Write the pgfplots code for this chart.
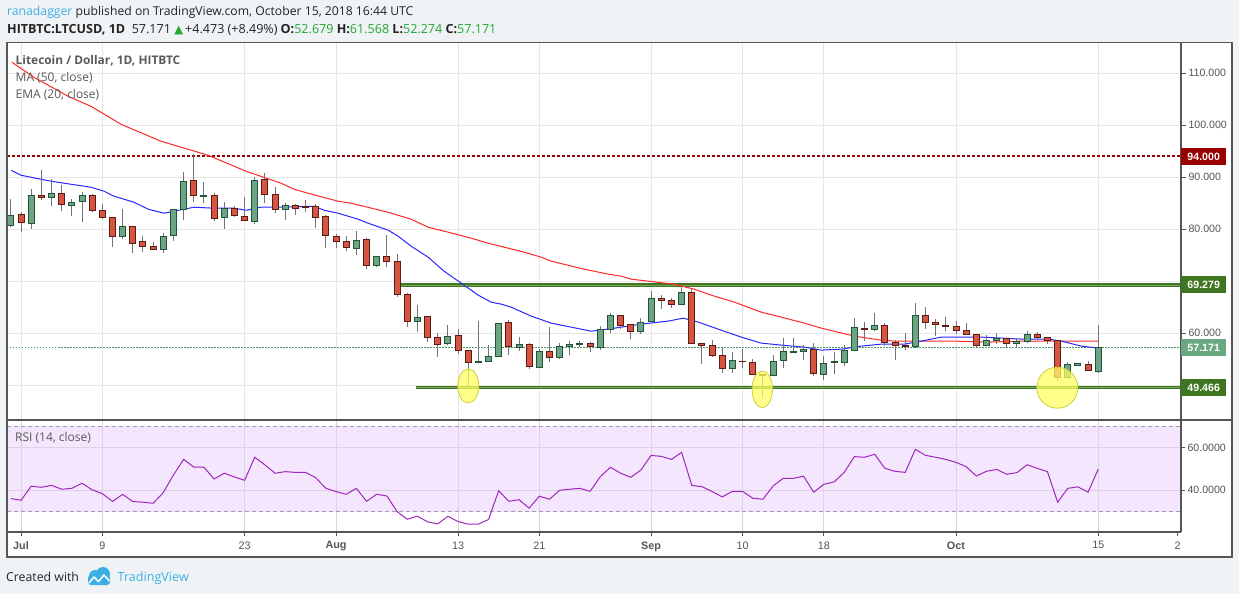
\documentclass[border=0pt]{standalone}
\usepackage{fontspec}
\setmainfont{Open Sans}
\newfontfamily\axfont{Liberation Sans}
\newfontfamily\symfont{DejaVu Sans}
\usepackage{pgfplots}
\usepackage{pgfplotstable}
\pgfplotsset{compat=1.18}

\definecolor{pageBg}{RGB}{240,243,246}
\definecolor{frameGray}{RGB}{85,85,85}
\definecolor{gridGray}{RGB}{230,230,230}
\definecolor{labelGray}{RGB}{85,85,85}
\definecolor{upFill}{RGB}{107,165,131}
\definecolor{upLine}{RGB}{34,85,55}
\definecolor{dnFill}{RGB}{214,84,66}
\definecolor{dnLine}{RGB}{92,28,20}
\definecolor{wick}{RGB}{115,115,117}
\definecolor{maRed}{RGB}{255,40,40}
\definecolor{emaBlue}{RGB}{40,40,255}
\definecolor{resRed}{RGB}{153,0,0}
\definecolor{supGreen}{RGB}{62,118,34}
\definecolor{supLight}{RGB}{120,165,90}
\definecolor{lastGreen}{RGB}{106,168,130}
\definecolor{dotGreen}{RGB}{70,150,100}
\definecolor{hlYellow}{RGB}{255,255,100}
\definecolor{hlEdge}{RGB}{205,205,60}
\definecolor{rsiLine}{RGB}{160,40,190}
\definecolor{rsiFill}{RGB}{244,230,252}
\definecolor{rsiGrid}{RGB}{222,208,232}
\definecolor{rsiBand}{RGB}{165,155,172}
\definecolor{tvBlue}{RGB}{60,176,228}
\definecolor{valGreen}{RGB}{38,166,52}
\definecolor{textDark}{RGB}{35,35,35}
\definecolor{legendGray}{RGB}{90,90,90}

% candles: day (0 = 1 Jul 2018), open, high, low, close
\pgfplotstableread{
d o h l c
-1 80.71 85.77 80.50 82.63
1 81.09 87.69 80.13 86.47
3 86.09 89.74 84.49 86.86
5 84.55 85.90 82.57 85.13
6 85.32 87.18 81.41 86.47
10 78.59 83.85 78.08 80.51
14 76.09 79.36 75.45 78.59
15 78.78 83.97 77.82 83.85
16 83.78 90.96 81.80 89.17
18 86.28 89.04 85.13 86.47
20 82.24 85.26 80.13 83.97
23 81.48 90.06 81.09 89.36
26 83.78 85.13 81.79 84.55
33 76.28 79.62 75.06 77.82
35 73.01 74.87 72.63 74.68
39 62.24 65.38 60.19 63.01
42 58.01 61.54 57.63 59.36
45 54.36 62.24 54.36 54.55
46 54.55 57.63 54.55 55.51
47 55.51 61.86 55.51 61.86
49 57.24 59.17 56.47 57.82
51 53.40 56.86 53.40 56.47
53 55.26 58.08 55.06 57.44
54 57.37 58.46 55.83 57.82
55 57.82 58.46 57.37 58.01
57 57.18 61.28 56.79 60.71
58 60.71 63.85 59.94 63.40
61 60.32 62.82 59.74 62.05
62 62.24 68.01 62.24 66.67
65 65.51 68.97 65.32 67.82
70 53.21 56.28 52.37 54.74
74 51.86 55.71 51.86 54.55
75 54.74 58.97 53.21 56.47
76 56.35 58.97 56.09 56.54
77 56.47 57.63 54.74 56.86
79 52.05 55.51 50.90 54.17
80 54.36 56.28 52.05 54.49
81 54.36 57.63 53.59 56.67
82 56.67 62.88 56.67 61.09
84 60.71 63.85 60.32 61.47
88 57.44 65.77 57.05 63.40
95 57.63 59.55 57.63 58.59
96 58.59 60.06 57.95 58.97
98 58.01 58.97 57.24 58.40
99 58.40 60.32 58.01 59.74
103 51.47 54.42 51.28 53.97
104 53.78 54.23 53.59 54.17
106 52.679 61.568 52.274 57.171
}\upc

\pgfplotstableread{
d o h l c
0 82.82 83.33 79.49 81.28
2 86.47 91.35 85.64 86.09
4 86.86 88.46 83.59 84.74
7 86.47 86.86 83.33 83.59
8 83.59 84.81 82.05 82.18
9 82.24 82.44 76.60 78.59
11 80.51 80.51 75.45 77.24
12 77.63 78.78 75.64 76.67
13 76.67 77.44 75.96 76.09
17 89.36 94.42 85.26 86.41
19 86.47 87.05 81.60 82.05
21 83.97 84.55 82.44 82.63
22 82.44 86.15 81.67 81.67
24 89.55 90.77 85.13 86.67
25 86.67 88.08 83.21 83.78
27 84.55 84.87 82.76 83.97
28 84.36 85.58 83.33 84.17
29 84.36 84.87 80.26 82.18
30 82.44 82.82 76.41 78.78
31 78.59 79.04 76.41 77.63
32 77.63 78.65 75.83 76.47
34 78.01 78.21 72.37 73.01
36 74.74 78.85 72.76 73.78
37 73.78 75.32 66.99 67.44
38 67.44 67.63 61.22 62.24
40 63.21 63.21 58.33 59.17
41 59.17 59.94 55.32 57.82
43 59.55 60.71 55.90 56.67
44 56.67 56.67 49.68 54.36
48 62.05 62.44 55.71 57.44
50 57.82 58.01 53.01 53.59
52 56.47 61.09 54.36 55.32
56 58.01 58.21 56.28 57.37
59 63.40 63.40 60.71 61.47
60 61.67 61.67 58.78 60.32
63 66.67 67.24 64.55 66.28
64 66.28 66.67 64.74 65.51
66 67.82 68.59 58.01 58.01
67 58.01 58.01 54.10 57.63
68 57.63 58.59 55.32 55.71
69 55.71 57.24 52.37 53.21
71 54.62 56.86 53.21 54.55
72 54.36 54.94 52.05 52.05
73 52.05 52.05 47.56 51.86
78 56.86 58.01 51.67 52.24
83 60.90 62.12 58.40 60.71
85 61.47 61.86 57.44 58.21
86 58.21 58.59 54.74 57.63
87 57.63 60.00 56.67 57.44
89 63.40 64.94 60.71 62.05
90 62.05 62.69 59.36 61.67
91 61.47 63.01 60.32 61.28
92 61.28 62.24 59.74 60.51
93 60.51 61.86 59.74 59.74
94 59.74 59.74 57.05 57.63
97 58.97 58.97 57.24 58.01
100 59.74 60.13 58.78 59.17
101 59.17 59.17 57.82 58.59
102 58.59 58.59 50.83 51.47
105 53.97 54.68 52.63 52.82
}\dnc

\pgfplotstableread{
d r
-1 36.1
0 35.3
1 41.9
2 41.4
3 42.3
4 40.5
5 40.9
6 43.3
7 40.2
8 38.4
9 34.8
10 38.1
11 34.7
12 34.4
13 33.9
14 38.9
15 47.2
16 54.5
17 50.9
18 50.8
19 45.3
20 48.0
21 46.25
22 44.7
23 55.5
24 51.9
25 48.0
26 48.75
27 48.4
28 48.4
29 45.9
30 40.9
31 39.4
32 38.1
33 40.9
34 34.8
35 38.1
36 37.3
37 30.0
38 26.4
39 27.8
40 25.2
41 24.2
42 27.8
43 25.3
44 24.1
45 24.1
46 26.25
47 39.8
48 34.8
49 35.6
50 31.6
51 37.2
52 35.8
53 40.0
54 40.5
55 40.9
56 39.5
57 46.4
58 50.8
59 48.0
60 46.1
61 49.5
62 56.4
63 55.9
64 54.5
65 57.8
66 42.3
67 41.7
68 39.4
69 36.9
70 39.5
71 39.5
72 36.25
73 35.8
74 42.0
75 45.6
76 45.6
77 46.6
78 39.1
79 42.8
80 43.9
81 48.4
82 55.8
83 55.5
84 56.9
85 50.3
86 48.9
87 48.4
88 59.2
89 56.4
90 55.5
91 54.5
92 53.1
93 51.1
94 46.7
95 48.9
96 49.8
97 47.5
98 48.3
99 52.0
100 50.3
101 48.75
102 34.4
103 40.9
104 41.6
105 39.1
106 50.0
}\rsi

\begin{document}
\begin{tikzpicture}
\fill[pageBg] (0,0) rectangle (1239pt,-594pt);
\fill[white] (7pt,-42.5pt) rectangle (1232pt,-557pt);
% RSI 30-70 band background
\fill[rsiFill] (7pt,-426.4pt) rectangle (1181pt,-511.6pt);

% header
\node[anchor=base west, inner sep=0pt, text=textDark, font=\fontsize{12.2}{14}\selectfont]
  at (7pt,-15.5pt) {\textcolor{tvBlue}{ranadagger} published on TradingView.com, October 15, 2018 16:44 UTC};
\node[anchor=base west, inner sep=0pt, text=textDark, font=\fontsize{12.55}{14}\selectfont]
  at (7pt,-34pt) {\textbf{HITBTC:LTCUSD, 1D}\ \ 57.171 {\symfont\fontsize{11.5}{12}\selectfont\textcolor{valGreen}{▲}}\,+4.473 (+8.49\%) \textbf{O:}\textcolor{valGreen}{52.679} \textbf{H:}\textcolor{valGreen}{61.568} \textbf{L:}\textcolor{valGreen}{52.274} \textbf{C:}\textcolor{valGreen}{57.171}};

\begin{axis}[
  at={(7pt,-42.5pt)}, anchor=north west,
  scale only axis, width=1174pt, height=377.5pt,
  xmin=-1.38, xmax=114.14, ymin=43.28, ymax=115.93,
  axis line style={draw=none},
  xtick={0,8,22,31,43,51,62,71,79,92,106},
  xticklabels={},
  xtick pos=bottom,
  x tick style={draw=none},
  ytick={50,60,70,80,90,100,110},
  yticklabels={{},60.000,{},80.000,90.000,100.000,110.000},
  ytick pos=right, yticklabel pos=right,
  tick align=outside, major tick length=5pt,
  y tick style={draw=frameGray, line width=0.8pt},
  yticklabel style={font=\axfont\fontsize{10.6}{12}\selectfont, text=labelGray, anchor=west, xshift=-1pt},
  grid=major, grid style={gridGray, line width=0.8pt},
]
% reference lines
\addplot[resRed, line width=2pt, dash pattern=on 3pt off 2pt, forget plot] coordinates {(-1.38,94) (114.14,94)};
\addplot[dotGreen, line width=0.8pt, dash pattern=on 1.5pt off 1.5pt, forget plot] coordinates {(-1.38,57.171) (114.14,57.171)};
\addplot[supGreen, line width=3.2pt, forget plot] coordinates {(37.4,69.279) (114.14,69.279)};
\addplot[supLight, line width=0.8pt, forget plot] coordinates {(37.4,69.279) (114.14,69.279)};
\addplot[supGreen, line width=3.2pt, forget plot] coordinates {(38.9,49.466) (114.14,49.466)};
\addplot[supLight, line width=0.8pt, forget plot] coordinates {(38.9,49.466) (114.14,49.466)};

% MA 50
\addplot[maRed, line width=1pt, mark=none] coordinates {
(-0.89,112.12) (1.28,109.23) (4.63,105.58) (6.89,103.65) (9.84,100.19) (13.78,96.92) (16.44,95.38) (18.41,94.23) (22.15,91.15) (25.59,88.85) (26.87,87.69) (28.25,86.92) (31.20,85.38) (32.48,85.00) (36.12,83.27) (38.39,81.92) (40.06,80.38) (42.03,79.42) (44.29,78.27) (45.96,77.31) (47.54,76.54) (49.51,75.58) (51.18,74.62) (52.17,73.85) (55.41,72.31) (57.78,71.35) (59.06,70.96) (60.04,70.38) (64.27,69.42) (66.24,68.46) (68.21,67.12) (70.18,65.96) (72.83,64.04) (74.80,63.08) (77.07,61.92) (78.74,60.96) (81.99,59.42) (84.65,58.65) (85.93,58.46) (88.58,58.46) (91.83,58.46) (95.18,58.27) (98.43,58.46) (101.67,58.46) (106.0,58.46)};
% EMA 20
\addplot[emaBlue, line width=1pt, mark=none] coordinates {
(-0.98,91.35) (0,90.38) (2.95,89.23) (4.92,88.65) (6.89,88.08) (8.17,87.31) (9.15,86.35) (11.12,85.19) (12.5,83.85) (14.07,83.08) (15.06,83.46) (17.03,84.23) (19.0,84.04) (20.96,84.04) (22.15,83.65) (23.62,84.23) (25.59,84.23) (28.84,84.42) (29.82,83.65) (31.2,83.08) (33.17,81.92) (34.15,81.15) (36.12,79.81) (37.11,78.65) (38.39,76.73) (40.06,74.62) (41.63,71.92) (43.31,69.62) (44.98,67.31) (46.26,65.96) (47.24,65.58) (48.23,65.0) (50.2,63.27) (52.17,61.92) (54.13,61.15) (56.1,60.38) (57.78,60.77) (61.02,61.73) (63.68,62.31) (65.16,62.88) (66.63,62.12) (68.6,60.77) (70.87,59.23) (72.83,58.08) (74.8,57.69) (77.07,57.31) (78.74,56.73) (80.71,56.92) (82.68,57.5) (84.65,57.88) (86.91,57.88) (88.58,58.46) (90.55,59.23) (92.52,59.23) (94.49,59.23) (96.46,59.04) (98.43,58.85) (101.08,58.85) (102.36,58.46) (104.33,57.5) (106,57.12)};

% wicks
\addplot[wick, line width=1pt, forget plot, quiver={u=0, v={\thisrow{l}-\thisrow{h}}}]
  table[x=d, y=h] {\upc};
\addplot[wick, line width=1pt, forget plot, quiver={u=0, v={\thisrow{l}-\thisrow{h}}}]
  table[x=d, y=h] {\dnc};
% bodies
\addplot[upLine, line width=7pt, forget plot, quiver={u=0, v={-abs(\thisrow{c}-\thisrow{o})-0.2}}]
  table[x=d, y expr={max(\thisrow{o},\thisrow{c})+0.1}] {\upc};
\addplot[upFill, line width=5pt, forget plot, quiver={u=0, v={-max(abs(\thisrow{c}-\thisrow{o})-0.2,0)}}]
  table[x=d, y expr={max(\thisrow{o},\thisrow{c})-0.1}] {\upc};
\addplot[dnLine, line width=7pt, forget plot, quiver={u=0, v={-abs(\thisrow{c}-\thisrow{o})-0.2}}]
  table[x=d, y expr={max(\thisrow{o},\thisrow{c})+0.1}] {\dnc};
\addplot[dnFill, line width=5pt, forget plot, quiver={u=0, v={-max(abs(\thisrow{c}-\thisrow{o})-0.2,0)}}]
  table[x=d, y expr={max(\thisrow{o},\thisrow{c})-0.1}] {\dnc};

% highlights
\draw[hlEdge, fill=hlYellow, fill opacity=0.75, line width=0.8pt] (axis cs:44.01,49.83) ellipse [x radius=10.5pt, y radius=17pt];
\draw[hlEdge, fill=hlYellow, fill opacity=0.75, line width=0.8pt] (axis cs:72.94,49.19) ellipse [x radius=10.2pt, y radius=18.3pt];
\draw[hlEdge, fill=hlYellow, fill opacity=0.75, line width=0.8pt] (axis cs:101.97,49.50) circle [radius=20.5pt];

\coordinate (b94) at (axis cs:114.14,94);
\coordinate (b69) at (axis cs:114.14,69.279);
\coordinate (b57) at (axis cs:114.14,57.171);
\coordinate (b49) at (axis cs:114.14,49.466);
\end{axis}

\begin{axis}[
  at={(7pt,-420pt)}, anchor=north west,
  scale only axis, width=1174pt, height=112pt,
  xmin=-1.38, xmax=114.14, ymin=20.4, ymax=73.0,
  axis line style={draw=none},
  xtick={0,8,22,31,43,51,62,71,79,92,106},
  xticklabels={\textbf{Jul},9,23,\textbf{Aug},13,21,\textbf{Sep},10,18,\textbf{Oct},15},
  extra x ticks={113.8}, extra x tick labels={2}, extra x tick style={grid=none},
  xtick pos=bottom,
  ytick={40,60},
  yticklabels={40.0000,60.0000},
  ytick pos=right, yticklabel pos=right,
  tick align=outside, major tick length=4pt,
  tick style={draw=frameGray, line width=0.8pt},
  xticklabel style={font=\axfont\fontsize{10.8}{12}\selectfont, text=labelGray, yshift=-2pt},
  yticklabel style={font=\axfont\fontsize{10.6}{12}\selectfont, text=labelGray, anchor=west, xshift=-1pt},
  grid=major, grid style={rsiGrid, line width=0.8pt},
]
\addplot[rsiBand, line width=0.8pt, dash pattern=on 4pt off 3pt, forget plot] coordinates {(-1.38,30) (114.14,30)};
\addplot[rsiBand, line width=0.8pt, dash pattern=on 4pt off 3pt, forget plot] coordinates {(-1.38,70) (114.14,70)};
\addplot[rsiLine, line width=1pt, mark=none] table[x=d, y=r] {\rsi};
\end{axis}

% frame
\draw[frameGray, line width=1.2pt] (7pt,-42.5pt) rectangle (1232pt,-557pt);
\draw[frameGray, line width=1.2pt] (1181pt,-42.5pt) -- (1181pt,-532pt);
\draw[frameGray, line width=1.2pt] (7pt,-420pt) -- (1232pt,-420pt);
\draw[frameGray, line width=1.2pt] (7pt,-532pt) -- (1181pt,-532pt);

% price boxes
\tikzset{pbox/.style={anchor=west, inner sep=0pt, minimum width=45pt, minimum height=17pt, text=white, font=\axfont\bfseries\fontsize{10.6}{12}\selectfont}}
\node[pbox, fill=resRed] at (b94) {94.000};
\node[pbox, fill=supGreen] at (b69) {69.279};
\node[pbox, fill=lastGreen] at (b57) {57.171};
\node[pbox, fill=supGreen] at (b49) {49.466};

% legends
\node[anchor=base west, inner sep=0pt, text=legendGray, font=\bfseries\fontsize{11.9}{13}\selectfont] at (15.5pt,-65pt) {Litecoin / Dollar, 1D, HITBTC};
\node[anchor=base west, inner sep=0pt, text=legendGray, font=\fontsize{12}{13}\selectfont] at (15.5pt,-81.7pt) {MA (50, close)};
\node[anchor=base west, inner sep=0pt, text=legendGray, font=\fontsize{12}{13}\selectfont] at (15.5pt,-98.3pt) {EMA (20, close)};
\node[anchor=base west, inner sep=0pt, text=legendGray, font=\fontsize{12}{13}\selectfont] at (15pt,-441.5pt) {RSI (14, close)};

% footer
\node[anchor=base west, inner sep=0pt, text=textDark, font=\fontsize{12.3}{14}\selectfont] at (6pt,-581pt) {Created with};
\fill[tvBlue] (95pt,-576pt) circle (6pt);
\fill[tvBlue] (103pt,-574pt) circle (7pt);
\fill[tvBlue, rounded corners=3pt] (88pt,-585pt) rectangle (110pt,-575pt);
\draw[white, line width=1.5pt, line join=round] (89pt,-583pt) -- (94pt,-577pt) -- (98.5pt,-581.5pt) -- (104pt,-575pt) -- (109.5pt,-581pt);
\node[anchor=base west, inner sep=0pt, text=tvBlue, font=\fontsize{12.6}{14}\selectfont] at (117.5pt,-581pt) {TradingView};
\pgfresetboundingbox
\useasboundingbox (0,0) rectangle (1239pt,-594pt);
\end{tikzpicture}
\end{document}
